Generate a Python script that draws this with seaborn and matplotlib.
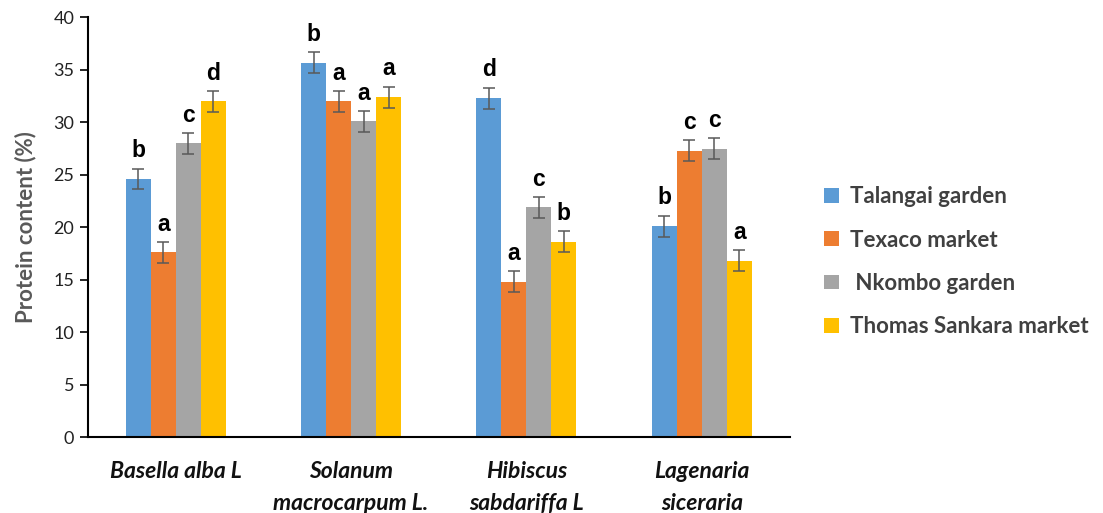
import matplotlib
matplotlib.use("Agg")
import matplotlib.pyplot as plt
import seaborn as sns
import pandas as pd
import numpy as np
from matplotlib.patches import Patch

categories = ["Basella alba L", "Solanum\nmacrocarpum L.", "Hibiscus\nsabdariffa L", "Lagenaria\nsiceraria"]
series = ["Talangai garden", "Texaco market", " Nkombo garden", "Thomas Sankara market"]
talangai = [24.6, 35.7, 32.3, 20.1]
texaco = [17.6, 32.0, 14.8, 27.3]
nkombo = [28.0, 30.1, 21.9, 27.5]
sankara = [32.0, 32.4, 18.6, 16.8]
err_talangai = [1.0, 1.0, 1.0, 1.0]
err_texaco = [1.0, 1.0, 1.0, 1.0]
err_nkombo = [1.0, 1.0, 1.0, 1.0]
err_sankara = [1.0, 1.0, 1.0, 1.0]
letters_talangai = ["b", "b", "d", "b"]
letters_texaco = ["a", "a", "a", "c"]
letters_nkombo = ["c", "a", "c", "c"]
letters_sankara = ["d", "a", "b", "a"]
colors = ["#5B9BD5", "#ED7D31", "#A5A5A5", "#FFC000"]
yticks = [0, 5, 10, 15, 20, 25, 30, 35, 40]

vals = [talangai, texaco, nkombo, sankara]
errs = [err_talangai, err_texaco, err_nkombo, err_sankara]
lets = [letters_talangai, letters_texaco, letters_nkombo, letters_sankara]

rows = []
for s, v in zip(series, vals):
    for c, x in zip(categories, v):
        rows.append({"species": c, "site": s, "protein": x})
df = pd.DataFrame(rows)

sns.set_theme(style="white")
plt.rcParams["font.family"] = ["Lato", "DejaVu Sans"]

fig = plt.figure(figsize=(11.03, 5.13), dpi=100)
ax = fig.add_axes([0.0798, 0.148, 0.636, 0.818])

sns.barplot(data=df, x="species", y="protein", hue="site", order=categories,
            hue_order=series, palette=colors, width=0.57, gap=0, errorbar=None,
            saturation=1, ax=ax, legend=False, linewidth=0)

for cont, e, l in zip(ax.containers, errs, lets):
    for bar, ee, ll in zip(cont, e, l):
        x = bar.get_x() + bar.get_width() / 2
        h = bar.get_height()
        ax.errorbar(x, h, yerr=ee, color="#595959", capsize=4, elinewidth=1.1,
                    capthick=1.1, fmt="none")
        ax.text(x, h + ee + 0.6, ll, ha="center", va="bottom", fontsize=16.5,
                fontweight="bold", family="Liberation Sans", color="black")

ax.set_ylim(0, 40)
ax.set_xlim(-0.5, 3.5)
ax.set_yticks(yticks)
ax.set_yticklabels([str(t) for t in yticks], fontsize=13, color="#222222")
ax.set_xlabel("")
ax.set_ylabel("Protein content (%)", fontsize=16, fontweight="bold", color="#595959", labelpad=12)
ax.set_xticks(range(len(categories)))
ax.set_xticklabels(categories, fontsize=16.5, fontweight="bold", fontstyle="italic",
                   color="#111111", linespacing=1.65)
ax.tick_params(axis="x", length=0, pad=17)
ax.tick_params(axis="y", length=6, width=1.2, color="black", direction="out", left=True, pad=4)
for sp in ["top", "right"]:
    ax.spines[sp].set_visible(False)
for sp in ["left", "bottom"]:
    ax.spines[sp].set_color("black")
    ax.spines[sp].set_linewidth(1.5)

handles = [Patch(facecolor=c, edgecolor="none") for c in colors]
fig.legend(handles, series, loc="center left", bbox_to_anchor=(0.729, 0.49),
           frameon=False, labelspacing=1.0, handlelength=0.65,
           handleheight=0.65, handletextpad=0.5, labelcolor="#404040",
           prop={"family": ["Lato", "DejaVu Sans"], "weight": "bold", "size": 16})

fig.savefig("out.png", dpi=100)
